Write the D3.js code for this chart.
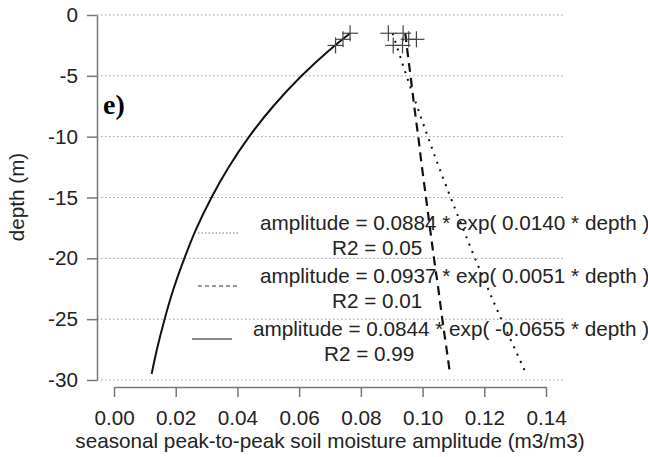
<!DOCTYPE html>
<html>
  <head>
    <meta http-equiv="Content-Type" content="text/html;charset=utf-8" />
    <title>Amplitude vs depth</title>
    <style>
      body { margin: 0; background: #fff; }
      svg { font-family: "Liberation Sans", Arial, sans-serif; }
      .axis path, .axis line { stroke: #777; stroke-width: 1.5px; }
      .axis text { font-size: 20.7px; fill: #222; }
      .grid { stroke: #999; stroke-width: 1px; stroke-dasharray: 1.5 2.5; }
      .lbl { font-size: 20.7px; fill: #222; }
      .leg { font-size: 20.7px; fill: #222; }
    </style>
    <script src="https://d3js.org/d3.v7.min.js"></script>
  </head>
  <body>
    <div id="chart"></div>
    <script>
      const width = 648, height = 457;

      // measured points (amplitude m3/m3, depth m)
      const ptAmp = [0.0765, 0.0742, 0.0718, 0.0889, 0.0937, 0.0955, 0.0980, 0.0905, 0.0935];
      const ptDepth = [-1.5, -2.0, -2.5, -1.5, -1.5, -2.0, -2.0, -2.5, -2.5];

      // fitted curves
      const fitDepth = [-1.5, -3, -5, -7.5, -10, -12.5, -15, -17.5, -20, -22.5, -25, -27.5, -29.5];
      const fitDotted = [0.0903, 0.0922, 0.0948, 0.0982, 0.1017, 0.1053, 0.1091, 0.1130, 0.1170, 0.1212, 0.1255, 0.1300, 0.1336];
      const fitDashed = [0.0944, 0.0951, 0.0961, 0.0973, 0.0986, 0.0998, 0.1011, 0.1024, 0.1037, 0.1051, 0.1064, 0.1078, 0.1089];
      const fitSolid = [0.0765, 0.0693, 0.0608, 0.0516, 0.0438, 0.0372, 0.0316, 0.0268, 0.0228, 0.0193, 0.0164, 0.0139, 0.0122];

      const legendText = [
        "amplitude = 0.0884 * exp( 0.0140 * depth )",
        "amplitude = 0.0937 * exp( 0.0051 * depth )",
        "amplitude = 0.0844 * exp( -0.0655 * depth )"
      ];
      const legendR2 = ["R2 = 0.05", "R2 = 0.01", "R2 = 0.99"];

      const xTicks = [0, 0.02, 0.04, 0.06, 0.08, 0.10, 0.12, 0.14];
      const yTicks = [0, -5, -10, -15, -20, -25, -30];

      const x = d3.scaleLinear().domain([0, 0.14]).range([114, 546]);
      const y = d3.scaleLinear().domain([0, -30]).range([15, 380]);

      const svg = d3.select("#chart").append("svg")
        .attr("width", width).attr("height", height);

      // dotted grid
      svg.append("g").selectAll("line").data(yTicks).enter().append("line")
        .attr("class", "grid")
        .attr("x1", 97).attr("x2", 565)
        .attr("y1", d => y(d)).attr("y2", d => y(d));

      // axes
      svg.append("g").attr("class", "axis")
        .attr("transform", "translate(0,387)")
        .call(d3.axisBottom(x).tickValues(xTicks).tickFormat(d3.format(".2f"))
          .tickSize(10).tickSizeOuter(0).tickPadding(13));
      svg.append("g").attr("class", "axis")
        .attr("transform", "translate(97,0)")
        .call(d3.axisLeft(y).tickValues(yTicks).tickFormat(d => d.toString())
          .tickSize(10).tickSizeOuter(0).tickPadding(9));
      svg.selectAll(".axis .domain").attr("fill", "none");

      svg.append("text")
        .attr("class", "lbl")
        .attr("x", 330).attr("y", 448)
        .attr("text-anchor", "middle")
        .text("seasonal peak-to-peak soil moisture amplitude (m3/m3)");

      svg.append("text")
        .attr("class", "lbl")
        .attr("transform", "translate(24,197) rotate(-90)")
        .attr("text-anchor", "middle")
        .text("depth (m)");

      svg.append("text")
        .attr("x", 103).attr("y", 114)
        .style("font-family", "'Liberation Serif', 'Times New Roman', serif")
        .style("font-weight", "bold").style("font-size", "28px")
        .text("e)");

      // fitted curves
      const styles = [
        { dash: "2 6", width: 2 },
        { dash: "9 6", width: 2.2 },
        { dash: null, width: 2 }
      ];
      const fits = [fitDotted, fitDashed, fitSolid];
      const line = d3.line()
        .x(d => x(d[0])).y(d => y(d[1]))
        .curve(d3.curveMonotoneY);
      fits.forEach(function (vals, i) {
        svg.append("path")
          .datum(vals.map((v, j) => [v, fitDepth[j]]))
          .attr("d", line)
          .style("fill", "none")
          .style("stroke", "#111")
          .style("stroke-width", styles[i].width)
          .style("stroke-dasharray", styles[i].dash);
      });

      // points (pch = 3)
      const pts = ptAmp.map((a, i) => ({ a: a, d: ptDepth[i] }));
      const cross = svg.append("g").selectAll("g").data(pts).enter().append("g")
        .attr("transform", d => "translate(" + x(d.a) + "," + y(d.d) + ")")
        .style("stroke", "#444").style("stroke-width", 1.2);
      cross.append("line").attr("x1", -8).attr("x2", 8);
      cross.append("line").attr("y1", -8).attr("y2", 8);

      // legend
      const legX = [260, 260, 253], r2X = [332, 332, 324], sampleX = [198, 198, 192];
      const legendDash = ["1.5 2", "4 3", null];
      const legendColor = ["#777", "#333", "#111"];
      legendText.forEach(function (t, i) {
        const top = 223 + i * 53;
        svg.append("line")
          .attr("x1", sampleX[i]).attr("x2", sampleX[i] + 40)
          .attr("y1", top + 10).attr("y2", top + 10)
          .style("stroke", legendColor[i]).style("stroke-width", 1.2)
          .style("stroke-dasharray", legendDash[i]);
        svg.append("text")
          .attr("class", "leg")
          .attr("x", legX[i]).attr("y", top).attr("dy", "0.35em")
          .text(t);
        svg.append("text")
          .attr("class", "leg")
          .attr("x", r2X[i]).attr("y", top + 25).attr("dy", "0.35em")
          .text(legendR2[i]);
      });
    </script>
  </body>
</html>
